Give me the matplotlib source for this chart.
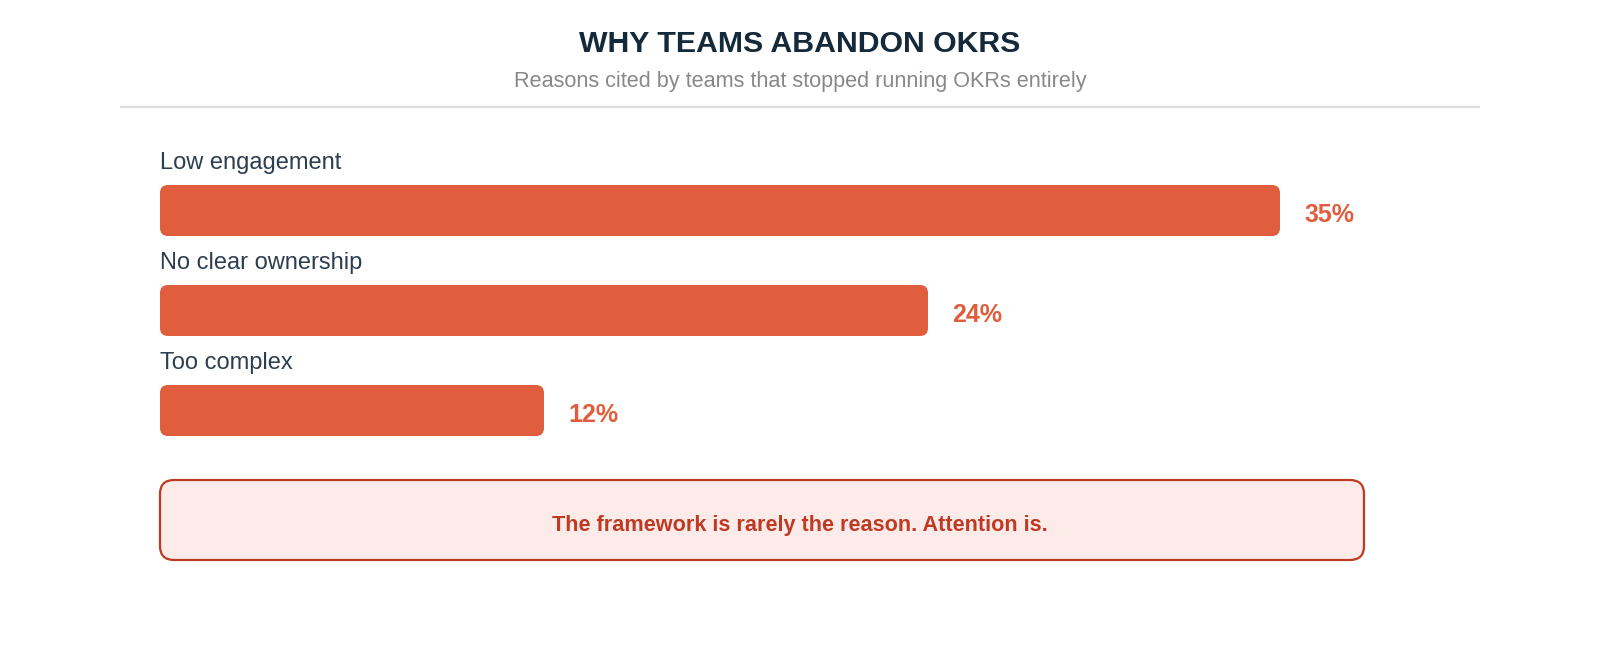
import matplotlib
matplotlib.use("Agg")
import matplotlib.pyplot as plt
from matplotlib.patches import FancyBboxPatch

# Data
reasons = ["Low engagement", "No clear ownership", "Too complex"]
shares = [35, 24, 12]
title = "WHY TEAMS ABANDON OKRS"
subtitle = "Reasons cited by teams that stopped running OKRs entirely"
callout = "The framework is rarely the reason. Attention is."

BAR = "#E05D3D"
LABEL = "#2C3E50"
TITLE = "#14293A"
SUB = "#888888"
CALL_EDGE = "#BF3A22"
CALL_FILL = "#FDEBEA"

plt.rcParams['font.family'] = ['Liberation Sans', 'DejaVu Sans']

W, H = 1600, 660
fig = plt.figure(figsize=(16, 6.6), dpi=100)

# overlay axes in pixel coordinates for header / callout
bg = fig.add_axes([0, 0, 1, 1])
bg.set_xlim(0, W)
bg.set_ylim(H, 0)
bg.axis('off')

bg.text(800, 44, title, ha='center', va='center', fontsize=21.8,
        fontweight='bold', color=TITLE)
bg.text(800, 82, subtitle, ha='center', va='center', fontsize=15.6, color=SUB)
bg.plot([120, 1480], [107, 107], color="#DDDDDD", lw=1.6, solid_capstyle='butt')

box = FancyBboxPatch((160, 480), 1204, 80, boxstyle="round,pad=0,rounding_size=14",
                     facecolor=CALL_FILL, edgecolor=CALL_EDGE, lw=1.6)
bg.add_patch(box)
bg.text(800, 525, callout, ha='center', va='center', fontsize=15.6,
        fontweight='bold', color=CALL_EDGE)

# bar axes: 32 px per percent, 100 px per row
ax_left, ax_top, ax_w, ax_h = 160, 100, 1440, 400
ax = fig.add_axes([ax_left / W, 1 - (ax_top + ax_h) / H, ax_w / W, ax_h / H])
ax.set_xlim(0, ax_w / 32)
top = -(210.5 - ax_top) / 100
ax.set_ylim(top + ax_h / 100, top)
ax.axis('off')

bar_h = 0.51
xu = 1 / 32   # x units per px
yu = 1 / 100  # y units per px
for i, (name, v) in enumerate(zip(reasons, shares)):
    bars = ax.barh(i, v, height=bar_h, color=BAR, alpha=0)
    b = bars[0]
    patch = FancyBboxPatch((b.get_x(), b.get_y()), b.get_width(), b.get_height(),
                           boxstyle=f"round,pad=0,rounding_size={8 * xu}",
                           mutation_aspect=yu / xu, facecolor=BAR, edgecolor='none')
    ax.add_patch(patch)
    ax.text(0, i - 0.48, name, ha='left', va='center', fontsize=17, color=LABEL)
    ax.text(v + 24 * xu, i + 0.04, f"{v}%", ha='left', va='center', fontsize=18,
            fontweight='bold', color=BAR)

fig.savefig("out.png", dpi=100)
